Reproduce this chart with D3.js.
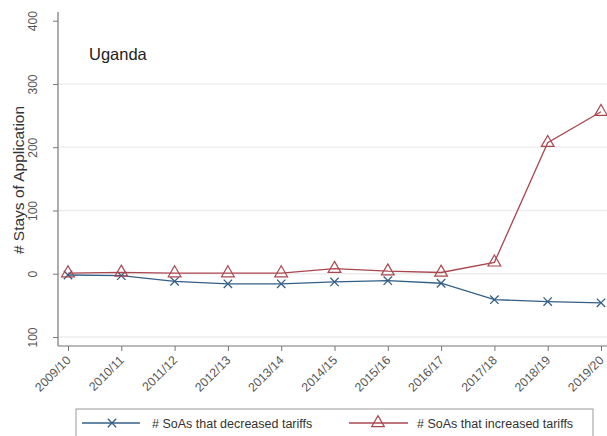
<!DOCTYPE html>
<html>
<head>
<meta charset="utf-8">
<script src="https://cdn.jsdelivr.net/npm/d3@7/dist/d3.min.js"></script>
<style>
  html, body { margin: 0; padding: 0; background: #fff; }
  svg { display: block; font-family: "Liberation Sans", Arial, sans-serif; }
</style>
</head>
<body>
<svg id="chart" width="607" height="436"></svg>
<script>
// Fiscal years on the x axis
const years = ["2009/10", "2010/11", "2011/12", "2012/13", "2013/14", "2014/15",
               "2015/16", "2016/17", "2017/18", "2018/19", "2019/20"];
// Stays of Application that decreased tariffs (plotted as negative counts)
const decreased = [-2, -3, -12, -16, -16, -13, -11, -15, -41, -44, -46];
// Stays of Application that increased tariffs
const increased = [1, 2, 1, 1, 1, 8, 4, 2, 18, 207, 256];
// Y tick values and the labels printed beside them
const yTicks = [-100, 0, 100, 200, 300, 400];
const yTickLabels = ["100", "0", "100", "200", "300", "400"];
const gridTicks = [-100, 0, 100, 200, 300];
const seriesNames = ["# SoAs that decreased tariffs", "# SoAs that increased tariffs"];
const country = "Uganda";

const blue = "#345f87";
const red = "#a9474f";

const svg = d3.select("#chart");

const x = d3.scalePoint().domain(years).range([68, 601]);
const y = d3.scaleLinear().domain([-100, 400]).range([337, 20.7]);
const axisX0 = 58, axisY0 = 346;

// gridlines
svg.append("g").selectAll("line").data(gridTicks).join("line")
  .attr("x1", axisX0 + 1).attr("x2", 607)
  .attr("y1", d => y(d)).attr("y2", d => y(d))
  .attr("stroke", "#ececec").attr("stroke-width", 1.3);

// y axis
const gy = svg.append("g").attr("transform", `translate(${axisX0},0)`)
  .call(d3.axisLeft(y).tickValues(yTicks).tickSize(5).tickFormat((d, i) => yTickLabels[i]));
gy.select(".domain").remove();
gy.selectAll(".tick line").attr("stroke", "#777");
gy.selectAll(".tick text")
  .attr("fill", "#555").attr("font-size", 12)
  .attr("font-family", "Liberation Sans, Arial, sans-serif")
  .attr("text-anchor", "middle").attr("dy", null)
  .attr("x", null)
  .attr("transform", "translate(-21.5,0) rotate(-90)")
  .attr("y", 0);
svg.append("line").attr("x1", axisX0).attr("x2", axisX0)
  .attr("y1", 12).attr("y2", axisY0).attr("stroke", "#777").attr("stroke-width", 1.2);

// x axis
const gx = svg.append("g").attr("transform", `translate(0,${axisY0})`)
  .call(d3.axisBottom(x).tickSize(5));
gx.select(".domain").remove();
gx.selectAll(".tick line").attr("stroke", "#777");
gx.selectAll(".tick text")
  .attr("fill", "#555").attr("font-size", 12.3)
  .attr("font-family", "Liberation Sans, Arial, sans-serif")
  .attr("text-anchor", "end").attr("dy", null).attr("y", null)
  .attr("transform", "translate(3,15) rotate(-45)");
svg.append("line").attr("x1", axisX0).attr("x2", 607)
  .attr("y1", axisY0).attr("y2", axisY0).attr("stroke", "#777").attr("stroke-width", 1.2);

// axis title
svg.append("text")
  .attr("transform", "translate(24,180) rotate(-90)")
  .attr("text-anchor", "middle").attr("font-size", 15.5).attr("fill", "#333")
  .text("# Stays of Application");

// panel title
svg.append("text").attr("x", 89).attr("y", 60)
  .attr("font-size", 16.5).attr("fill", "#222").text(country);

const line = d3.line().x((d, i) => x(years[i])).y(d => y(d));

// marker shapes
const xMark = (g, cx, cy, color) => {
  const s = 4.2;
  g.append("path")
    .attr("d", `M${cx - s},${cy - s}L${cx + s},${cy + s}M${cx - s},${cy + s}L${cx + s},${cy - s}`)
    .attr("stroke", color).attr("stroke-width", 1.3).attr("fill", "none");
};
const triMark = (g, cx, cy, color) => {
  g.append("path")
    .attr("d", d3.symbol().type(d3.symbolTriangle).size(70)())
    .attr("transform", `translate(${cx},${cy})`)
    .attr("stroke", color).attr("stroke-width", 1.2).attr("fill", "none");
};

// decreased series
const g1 = svg.append("g");
g1.append("path").datum(decreased).attr("d", line)
  .attr("fill", "none").attr("stroke", blue).attr("stroke-width", 1.3);
decreased.forEach((d, i) => xMark(g1, x(years[i]), y(d), blue));

// increased series
const g2 = svg.append("g");
g2.append("path").datum(increased).attr("d", line)
  .attr("fill", "none").attr("stroke", red).attr("stroke-width", 1.3);
increased.forEach((d, i) => triMark(g2, x(years[i]), y(d), red));

// legend
const lg = svg.append("g");
lg.append("rect").attr("x", 76).attr("y", 409).attr("width", 517).attr("height", 40)
  .attr("fill", "#fff").attr("stroke", "#999").attr("stroke-width", 1);
const ly = 423;
lg.append("line").attr("x1", 82).attr("x2", 140).attr("y1", ly).attr("y2", ly)
  .attr("stroke", blue).attr("stroke-width", 1.3);
xMark(lg, 112, ly, blue);
lg.append("text").attr("x", 152).attr("y", ly + 4.5).attr("font-size", 12.5)
  .attr("fill", "#333").text(seriesNames[0]);
lg.append("line").attr("x1", 349).attr("x2", 408).attr("y1", ly).attr("y2", ly)
  .attr("stroke", red).attr("stroke-width", 1.3);
triMark(lg, 378, ly, red);
lg.append("text").attr("x", 417).attr("y", ly + 4.5).attr("font-size", 12.5)
  .attr("fill", "#333").text(seriesNames[1]);
</script>
</body>
</html>
